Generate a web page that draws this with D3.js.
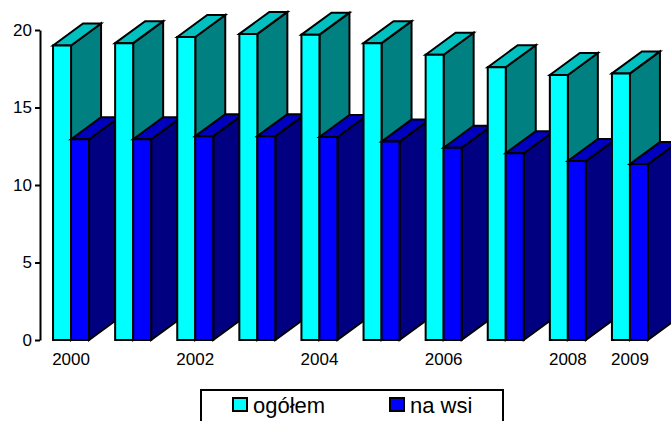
<!DOCTYPE html>
<html>
<head>
<meta charset="utf-8">
<title>ogółem / na wsi</title>
<style>
  html, body { margin: 0; padding: 0; background: #fff; }
  svg { display: block; }
  text { font-family: "Liberation Sans", Arial, sans-serif; fill: #000; }
  .axis text { font-size: 17px; }
  .axis path, .axis line { stroke: #000; stroke-width: 2; }
  .legend text { font-size: 22px; }
  path.bar { stroke: #000; stroke-width: 2; stroke-linejoin: miter; }
</style>
</head>
<body>
<script src="https://d3js.org/d3.v7.min.js"></script>
<script>
var years = ["2000", "2001", "2002", "2003", "2004", "2005", "2006", "2007", "2008", "2009"];
var shownYears = ["2000", "2002", "2004", "2006", "2008", "2009"];
var ogolem = [19.0, 19.15, 19.55, 19.75, 19.7, 19.15, 18.4, 17.6, 17.1, 17.2];
var naWsi = [12.95, 12.95, 13.15, 13.15, 13.1, 12.8, 12.4, 12.05, 11.55, 11.35];
var seriesNames = ["ogółem", "na wsi"];
var yTicks = [0, 5, 10, 15, 20];

var seriesColors = [
  { front: "#00FFFF", top: "#00C0C0", side: "#008080" },
  { front: "#0000FF", top: "#0000C0", side: "#000080" }
];

var width = 671, height = 421;
var depthX = 30, depthY = 22; // the oblique 3d offset

var x = d3.scaleBand().domain(years).range([40, 661]).paddingInner(0.42).paddingOuter(0.21);
var xInner = d3.scaleBand().domain([0, 1]).range([0, x.bandwidth()]);
var y = d3.scaleLinear().domain([0, 20]).range([340, 30]);

var svg = d3.select("body").append("svg")
    .attr("width", width)
    .attr("height", height);

function poly(pts) {
  return "M" + pts.map(function(p) { return p.join(","); }).join("L") + "Z";
}

years.forEach(function(year, i) {
  [ogolem[i], naWsi[i]].forEach(function(v, s) {
    var x0 = x(year) + xInner(s),
        x1 = x0 + xInner.bandwidth(),
        y0 = y(0),
        y1 = y(v);
    var g = svg.append("g").attr("class", "column");
    g.append("path").attr("class", "bar")
        .attr("fill", seriesColors[s].side)
        .attr("d", poly([[x1, y0], [x1 + depthX, y0 - depthY], [x1 + depthX, y1 - depthY], [x1, y1]]));
    g.append("path").attr("class", "bar")
        .attr("fill", seriesColors[s].top)
        .attr("d", poly([[x0, y1], [x0 + depthX, y1 - depthY], [x1 + depthX, y1 - depthY], [x1, y1]]));
    g.append("path").attr("class", "bar")
        .attr("fill", seriesColors[s].front)
        .attr("d", poly([[x0, y0], [x0, y1], [x1, y1], [x1, y0]]));
  });
});

var yAxis = d3.axisLeft(y).tickValues(yTicks).tickSize(5).tickSizeOuter(0).tickPadding(3);
svg.append("g")
    .attr("class", "y axis")
    .attr("transform", "translate(40,0)")
    .call(yAxis);

var xAxis = d3.axisBottom(x).tickValues(shownYears).tickSize(0).tickPadding(13);
svg.append("g")
    .attr("class", "x axis")
    .attr("transform", "translate(0,340)")
    .call(xAxis)
    .call(function(g) { g.select(".domain").remove(); });

// legend box runs off the bottom of the picture
var legend = svg.append("g").attr("class", "legend");
legend.append("rect")
    .attr("x", 201).attr("y", 390)
    .attr("width", 302).attr("height", 60)
    .attr("fill", "#fff").attr("stroke", "#000").attr("stroke-width", 2);

var legendX = d3.scalePoint().domain(seriesNames).range([233, 390]);
seriesNames.forEach(function(name, s) {
  legend.append("rect")
      .attr("x", legendX(name)).attr("y", 398)
      .attr("width", 14).attr("height", 13)
      .attr("fill", seriesColors[s].front)
      .attr("stroke", "#000").attr("stroke-width", 2);
  legend.append("text")
      .attr("x", legendX(name) + 20).attr("y", 413)
      .text(name);
});
</script>
</body>
</html>
